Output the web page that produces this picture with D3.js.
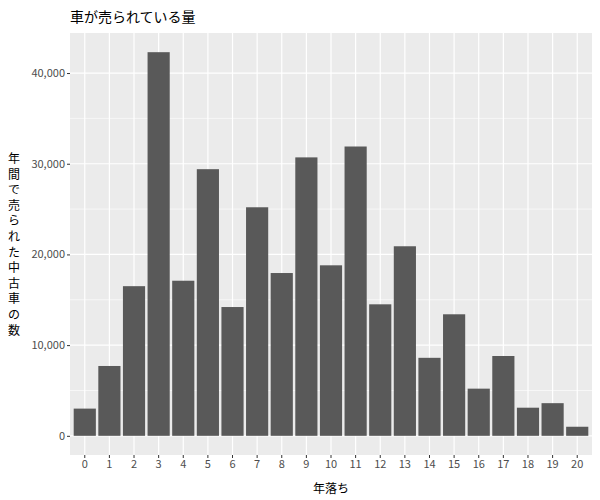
<!DOCTYPE html>
<meta charset="utf-8">
<style>
    body { margin: 0; background: #fff; }
    text { font-family: "Noto Sans CJK JP", "DejaVu Sans", sans-serif; }
    .tick text { fill: #4D4D4D; font-size: 11px; }
    .tick line { stroke: #333; }
    .domain { display: none; }
</style>
<svg width="600" height="500"></svg>
<script src="https://cdn.jsdelivr.net/npm/d3@7"></script>
<script>
    var years = d3.range(0, 21).map(String);
    var counts = [3000, 7700, 16500, 42300, 17100, 29400, 14200, 25200, 17950, 30700,
        18800, 31900, 14500, 20900, 8600, 13400, 5200, 8800, 3100, 3600, 1000];
    var yTicks = [0, 10000, 20000, 30000, 40000];
    var yMinor = [5000, 15000, 25000, 35000];

    var svg = d3.select("svg");
    var pLeft = 70, pRight = 592, pTop = 33, pBottom = 455;

    var x = d3.scaleBand().domain(years).range([pLeft, pRight]).paddingInner(0.1).paddingOuter(0.15);
    var maxV = d3.max(counts);
    var y = d3.scaleLinear().domain([-maxV * 0.05, maxV * 1.05]).range([pBottom, pTop]);

    svg.append("rect").attr("x", pLeft).attr("y", pTop)
        .attr("width", pRight - pLeft).attr("height", pBottom - pTop).attr("fill", "#EBEBEB");

    var g = svg.append("g");
    g.selectAll(".minor").data(yMinor).enter().append("line")
        .attr("x1", pLeft).attr("x2", pRight)
        .attr("y1", d => y(d)).attr("y2", d => y(d))
        .attr("stroke", "#fff").attr("stroke-width", 0.6);
    g.selectAll(".major").data(yTicks).enter().append("line")
        .attr("x1", pLeft).attr("x2", pRight)
        .attr("y1", d => y(d)).attr("y2", d => y(d))
        .attr("stroke", "#fff").attr("stroke-width", 1.2);
    g.selectAll(".vmajor").data(years).enter().append("line")
        .attr("y1", pTop).attr("y2", pBottom)
        .attr("x1", d => x(d) + x.bandwidth() / 2).attr("x2", d => x(d) + x.bandwidth() / 2)
        .attr("stroke", "#fff").attr("stroke-width", 1.2);

    svg.selectAll(".bar").data(counts).enter().append("rect")
        .attr("x", (d, i) => x(years[i]))
        .attr("width", x.bandwidth())
        .attr("y", d => y(d))
        .attr("height", d => y(0) - y(d))
        .attr("fill", "#595959");

    svg.append("g").attr("transform", "translate(0," + pBottom + ")")
        .call(d3.axisBottom(x).tickSize(3).tickPadding(2));
    svg.append("g").attr("transform", "translate(" + pLeft + ",0)")
        .call(d3.axisLeft(y).tickValues(yTicks).tickSize(3).tickPadding(2));

    svg.append("text").attr("x", pLeft).attr("y", 22)
        .attr("font-size", 14).attr("fill", "#000").text("車が売られている量");
    svg.append("text").attr("x", (pLeft + pRight) / 2).attr("y", 493)
        .attr("text-anchor", "middle").attr("font-size", 12).text("年落ち");

    var yTitle = "年間で売られた中古車の数".split("");
    svg.append("text").attr("text-anchor", "middle").attr("font-size", 12)
        .selectAll("tspan").data(yTitle).enter().append("tspan")
        .attr("x", 14).attr("y", (d, i) => 163 + i * 15.6)
        .text(d => d);
</script>
